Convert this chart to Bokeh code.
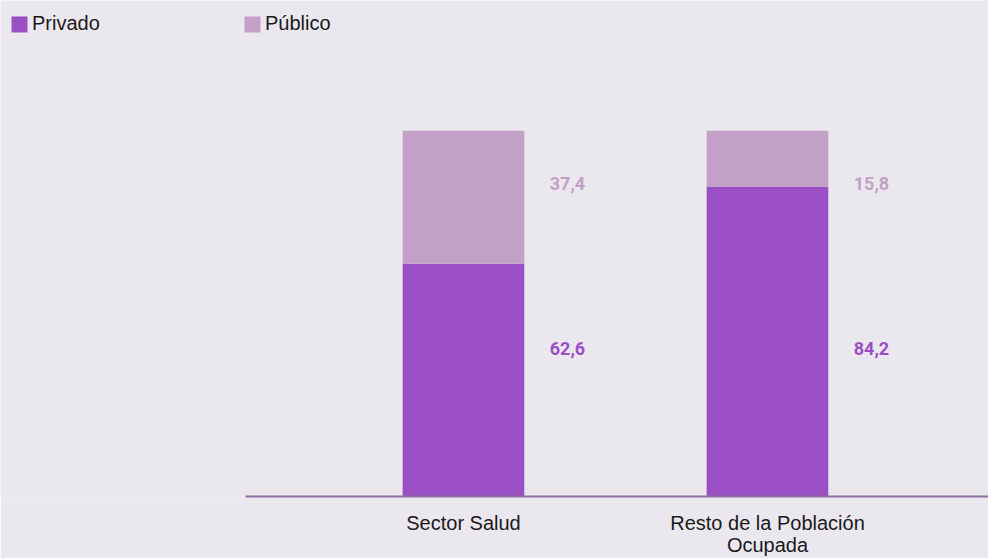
from bokeh.plotting import figure
from bokeh.models import Legend, LegendItem, ColumnDataSource, FixedTicker, Range1d
from bokeh.core.properties import value
from bokeh.embed import file_html
from bokeh.resources import INLINE

# ---- data ----
categories = ["Sector Salud", "Resto de la Población\nOcupada"]
privado = [62.6, 84.2]
publico = [37.4, 15.8]
privado_labels = ["62,6", "84,2"]
publico_labels = ["37,4", "15,8"]

# ---- style / layout ----
BG = "#EAE7EE"
C_PRIV = "#9A4FC4"
C_PUB = "#C3A0C8"
AXIS_C = "#8E6E9E"
TEXT_C = "#1A1A1A"
BASE = -2.97
BAR_W = 0.40
LABEL_DX = 0.342
PUB_LABEL_Y = 85.1
PRIV_LABEL_Y = 38.6

xs = list(range(len(categories)))
pub_bottom = privado
pub_top = [a + b for a, b in zip(privado, publico)]

src = ColumnDataSource(dict(
    x=xs, priv=privado, pub_bottom=pub_bottom, pub_top=pub_top,
    base=[BASE] * len(xs),
    lx=[v + LABEL_DX for v in xs],
    priv_lab=privado_labels, pub_lab=publico_labels,
    priv_ly=[PRIV_LABEL_Y] * len(xs), pub_ly=[PUB_LABEL_Y] * len(xs),
))

p = figure(width=988, height=558, x_range=Range1d(-1.523, 1.727),
           y_range=Range1d(BASE, 136.7), output_backend="svg",
           toolbar_location=None, y_axis_location=None,
           min_border_left=0, min_border_right=0, min_border_top=0,
           min_border_bottom=60)
p.background_fill_color = BG
p.border_fill_color = BG
p.outline_line_color = None
p.xgrid.visible = False
p.ygrid.visible = False

r_priv = p.vbar(x="x", width=BAR_W, bottom="base", top="priv", source=src,
                fill_color=C_PRIV, line_color=None)
r_pub = p.vbar(x="x", width=BAR_W, bottom="pub_bottom", top="pub_top", source=src,
               fill_color=C_PUB, line_color=None)

p.text(x="lx", y="priv_ly", text="priv_lab", source=src, text_align="center",
       text_baseline="middle", text_font=value("Roboto"), text_font_style="bold",
       text_font_size="18px", text_color=C_PRIV)
p.text(x="lx", y="pub_ly", text="pub_lab", source=src, text_align="center",
       text_baseline="middle", text_font=value("Roboto"), text_font_style="bold",
       text_font_size="18px", text_color=C_PUB)

ax = p.xaxis[0]
ax.ticker = FixedTicker(ticks=xs)
ax.major_label_overrides = {i: c for i, c in zip(xs, categories)}
ax.bounds = (-0.717, 1.727)
ax.axis_line_color = AXIS_C
ax.axis_line_width = 2
ax.major_tick_line_color = None
ax.minor_tick_line_color = None
ax.major_tick_out = 0
ax.major_tick_in = 0
ax.major_label_standoff = 15
ax.major_label_text_font = "Liberation Sans"
ax.major_label_text_font_size = "20px"
ax.major_label_text_color = TEXT_C
ax.major_label_text_line_height = 1.0

legend = Legend(items=[LegendItem(label="Privado", renderers=[r_priv]),
                       LegendItem(label="Público", renderers=[r_pub])],
                orientation="horizontal", location=(9, 461),
                label_width=210, spacing=0, padding=0, margin=0,
                glyph_width=20, glyph_height=20, label_standoff=3,
                border_line_color=None, background_fill_alpha=0,
                label_text_font="Liberation Sans", label_text_font_size="20px",
                label_text_color=TEXT_C)
p.add_layout(legend)

open("out.html", "w").write(file_html(p, INLINE))
